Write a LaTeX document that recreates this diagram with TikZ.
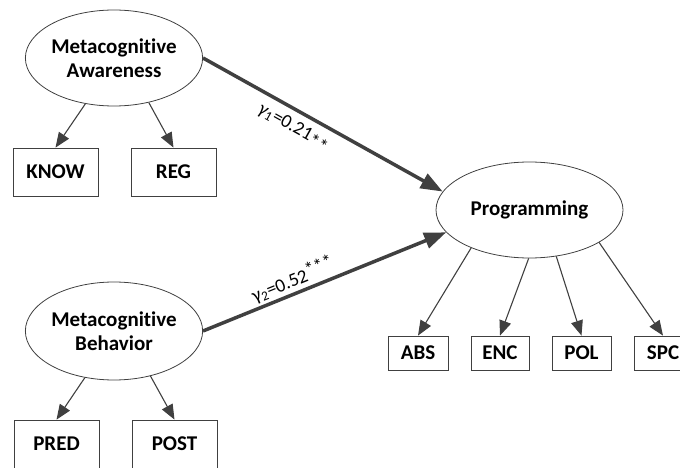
\documentclass[tikz,border=0pt]{standalone}
\usepackage{fontspec}
\setmainfont{Carlito}[Ligatures={NoCommon}]
\usetikzlibrary{shapes.geometric,arrows.meta}
\definecolor{ln}{HTML}{404040}
\tikzset{
  latent/.style={ellipse,draw=ln,line width=0.8pt,inner sep=0pt,font=\fontsize{21}{24}\selectfont\bfseries,align=center},
  obsbox/.style={rectangle,draw=ln,line width=0.8pt,inner sep=0pt,font=\fontsize{21}{24}\selectfont\bfseries},
  thinarr/.style={draw=ln,line width=1.1pt,-{Triangle[length=15pt,width=12pt]}},
  thickarr/.style={draw=ln,line width=3.5pt,-{Triangle[length=22pt,width=16pt]}},
  coef/.style={font=\fontsize{19}{22}\selectfont,text=black,inner sep=1pt}
}
\begin{document}
\begin{tikzpicture}[x=1pt,y=-1pt]
\useasboundingbox (0,0) rectangle (680,468);
\clip (0,0) rectangle (680,468);
% latent variables
\node[latent,minimum width=170pt,minimum height=96pt] (MA) at (114,58) {Metacognitive\\Awareness};
\node[latent,minimum width=170pt,minimum height=98pt] (MB) at (114,331) {Metacognitive\\Behavior};
\node[latent,minimum width=187pt,minimum height=96pt] (PR) at (529.5,210) {Programming};
% observed
\node[obsbox,minimum width=85pt,minimum height=48pt] (KNOW) at (55.5,172) {KNOW};
\node[obsbox,minimum width=85pt,minimum height=48pt] (REG) at (173.5,172) {REG};
\node[obsbox,minimum width=85pt,minimum height=48pt] (PRED) at (56.5,444) {PRED};
\node[obsbox,minimum width=85pt,minimum height=48pt] (POST) at (174.5,444) {POST};
\node[obsbox,minimum width=60pt,minimum height=34pt] (ABS) at (418,353) {ABS};
\node[obsbox,minimum width=58pt,minimum height=34pt] (ENC) at (500,353) {ENC};
\node[obsbox,minimum width=59pt,minimum height=34pt] (POL) at (581.5,353) {POL};
\node[obsbox,minimum width=58pt,minimum height=34pt] (SPC) at (663,353) {SPC};
% measurement arrows
\draw[thinarr] (MA.238) -- (KNOW.north);
\draw[thinarr] (MA.308) -- (REG.north);
\draw[thinarr] (MB.238) -- (PRED.north);
\draw[thinarr] (MB.309) -- (POST.north);
\draw[thinarr] (PR.213) -- (ABS.north);
\draw[thinarr] (PR.269) -- (ENC.north);
\draw[thinarr] (PR.300) -- (POL.north);
\draw[thinarr] (PR.335) -- (SPC.north);
% structural paths
\draw[thickarr] (MA.east) -- node[coef,pos=0.41,below=6pt,sloped] {\textit{γ}\textsubscript{1}=0.21\raisebox{-4pt}{**}} (PR.168);
\draw[thickarr] (MB.east) -- node[coef,pos=0.39,above=1pt,sloped] {γ\textsubscript{2}=0.52\raisebox{4pt}{***}} (PR.195);
\end{tikzpicture}
\end{document}
